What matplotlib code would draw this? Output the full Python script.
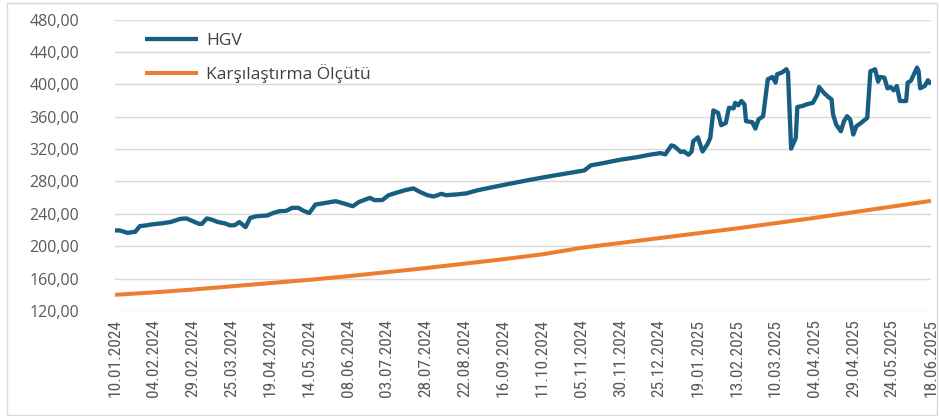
import matplotlib
matplotlib.use("Agg")
import matplotlib.pyplot as plt
from matplotlib import font_manager
from matplotlib.patches import Rectangle
import pandas as pd

# ---------------- data ----------------
tick_labels = ["10.01.2024", "04.02.2024", "29.02.2024", "25.03.2024", "19.04.2024",
               "14.05.2024", "08.06.2024", "03.07.2024", "28.07.2024", "22.08.2024",
               "16.09.2024", "11.10.2024", "05.11.2024", "30.11.2024", "25.12.2024",
               "19.01.2025", "13.02.2025", "10.03.2025", "04.04.2025", "29.04.2025",
               "24.05.2025", "18.06.2025"]

hgv_dates = ["10.01.2024", "13.01.2024", "18.01.2024", "23.01.2024", "26.01.2024", "30.01.2024",
             "03.02.2024", "10.02.2024", "15.02.2024", "21.02.2024", "25.02.2024", "29.02.2024",
             "04.03.2024", "06.03.2024", "09.03.2024", "12.03.2024", "16.03.2024", "21.03.2024",
             "24.03.2024", "27.03.2024", "30.03.2024", "03.04.2024", "06.04.2024", "10.04.2024",
             "17.04.2024", "21.04.2024", "25.04.2024", "29.04.2024", "03.05.2024", "07.05.2024",
             "10.05.2024", "14.05.2024", "18.05.2024", "22.05.2024", "31.05.2024", "04.06.2024",
             "11.06.2024", "15.06.2024", "22.06.2024", "25.06.2024", "30.06.2024", "04.07.2024",
             "09.07.2024", "15.07.2024", "20.07.2024", "24.07.2024", "29.07.2024", "02.08.2024",
             "07.08.2024", "10.08.2024", "17.08.2024", "23.08.2024", "30.08.2024", "07.09.2024",
             "20.09.2024", "03.10.2024", "16.10.2024", "29.10.2024", "07.11.2024", "11.11.2024",
             "19.11.2024", "30.11.2024", "11.12.2024", "19.12.2024", "26.12.2024", "29.12.2024",
             "02.01.2025", "04.01.2025", "08.01.2025", "10.01.2025", "13.01.2025", "15.01.2025",
             "16.01.2025", "19.01.2025", "22.01.2025", "25.01.2025", "27.01.2025", "29.01.2025",
             "01.02.2025", "03.02.2025", "06.02.2025", "08.02.2025", "11.02.2025", "12.02.2025",
             "14.02.2025", "16.02.2025", "18.02.2025", "19.02.2025", "23.02.2025", "25.02.2025",
             "27.02.2025", "02.03.2025", "05.03.2025", "08.03.2025", "10.03.2025", "11.03.2025",
             "14.03.2025", "17.03.2025", "18.03.2025", "20.03.2025", "23.03.2025", "24.03.2025",
             "27.03.2025", "30.03.2025", "03.04.2025", "06.04.2025", "07.04.2025", "10.04.2025",
             "13.04.2025", "15.04.2025", "16.04.2025", "18.04.2025", "21.04.2025", "23.04.2025",
             "25.04.2025", "27.04.2025", "29.04.2025", "01.05.2025", "04.05.2025", "08.05.2025",
             "10.05.2025", "13.05.2025", "15.05.2025", "16.05.2025", "19.05.2025", "21.05.2025",
             "23.05.2025", "25.05.2025", "27.05.2025", "29.05.2025", "02.06.2025", "03.06.2025",
             "05.06.2025", "07.06.2025", "09.06.2025", "10.06.2025", "11.06.2025", "14.06.2025",
             "16.06.2025", "18.06.2025"]

hgv_values = [219.5, 219.5, 216.5, 217.8, 224.8, 225.7,
              227.0, 228.5, 230.0, 233.8, 234.3, 231.0,
              227.7, 227.7, 234.3, 233.0, 230.0, 228.0,
              225.7, 226.0, 229.8, 223.6, 235.0, 237.0,
              238.0, 241.2, 243.3, 243.6, 247.4, 247.4,
              244.0, 241.0, 251.5, 252.7, 255.6, 253.5,
              249.4, 254.7, 259.7, 256.9, 257.0, 263.0,
              266.0, 269.4, 271.4, 267.2, 263.0, 261.4,
              264.7, 263.0, 264.0, 265.2, 269.0, 272.2,
              277.2, 282.0, 286.5, 290.7, 293.6, 299.8,
              302.6, 306.8, 310.0, 313.0, 315.0, 313.4,
              324.5, 323.3, 316.3, 317.0, 313.0, 317.0,
              329.6, 334.5, 317.0, 325.5, 333.7, 367.7,
              364.7, 349.4, 352.3, 371.0, 370.2, 377.1,
              374.0, 379.3, 375.2, 354.4, 353.2, 345.3,
              356.5, 360.6, 406.2, 409.0, 402.0, 412.4,
              414.4, 418.6, 414.4, 320.5, 333.7, 372.0,
              373.0, 375.2, 377.1, 387.6, 396.6, 389.6,
              384.2, 381.4, 362.7, 350.3, 342.0, 354.4,
              360.6, 356.5, 337.9, 348.2, 352.3, 358.5,
              416.0, 418.6, 403.2, 409.0, 408.2, 395.0,
              396.6, 392.5, 397.9, 379.3, 379.3, 402.0,
              404.1, 412.4, 420.6, 416.5, 395.0, 397.9,
              405.0, 400.0]

bench_dates = tick_labels
bench_values = [140.0, 143.0, 146.5, 150.5, 154.5, 158.5, 163.0, 168.0, 173.0, 178.5,
                184.0, 190.0, 198.0, 204.0, 210.0, 216.0, 222.0, 228.5, 235.0, 242.0,
                249.0, 256.0]

series_names = ["HGV", "Karşılaştırma Ölçütü"]
y_ticks = [120, 160, 200, 240, 280, 320, 360, 400, 440, 480]

# ---------------- fonts ----------------
available = {f.name for f in font_manager.fontManager.ttflist}
narrow = None
for cand in ["Liberation Sans Narrow", "Arial Narrow", "Roboto Condensed",
             "DejaVu Sans Condensed", "Open Sans Condensed", "Noto Sans Condensed"]:
    if cand in available:
        narrow = cand
        break
if narrow is None:
    xfont, xsize = ["Roboto", "DejaVu Sans"], 9.8
elif narrow == "DejaVu Sans Condensed":
    xfont, xsize = [narrow, "DejaVu Sans"], 9.8
else:
    xfont, xsize = [narrow, "DejaVu Sans"], 12.5

# ---------------- plot ----------------
W, H = 940, 416
fig = plt.figure(figsize=(W / 100, H / 100), dpi=100)
L, R, T, B = 115, 931, 19.5, 311
ax = fig.add_axes([L / W, 1 - B / H, (R - L) / W, (B - T) / H])

hx = pd.to_datetime(hgv_dates, format="%d.%m.%Y")
bx = pd.to_datetime(bench_dates, format="%d.%m.%Y")
tx = pd.to_datetime(tick_labels, format="%d.%m.%Y")

blue = "#175E82"
orange = "#ED7D31"
ax.plot(hx, hgv_values, color=blue, lw=3.1, solid_joinstyle="round",
        solid_capstyle="butt", label=series_names[0], zorder=3)
ax.plot(bx, bench_values, color=orange, lw=2.9, solid_capstyle="butt",
        label=series_names[1], zorder=2)

ax.set_xlim(tx[0], tx[-1])
ax.set_ylim(120, 480)
ax.set_yticks(y_ticks)
ax.set_yticklabels([f"{v:.2f}".replace(".", ",") for v in y_ticks],
                   fontsize=11.5, color="#595959", family=["Open Sans", "DejaVu Sans"])
ax.set_xticks(tx)
ax.set_xticklabels(tick_labels, rotation=90, fontsize=xsize, color="#595959",
                   family=xfont)
ax.tick_params(axis="both", length=0)
ax.tick_params(axis="y", pad=26)
ax.tick_params(axis="x", pad=6)
ax.grid(axis="y", color="#D9D9D9", lw=1.0)
ax.set_axisbelow(True)
for s in ax.spines.values():
    s.set_visible(False)

leg = ax.legend(loc="upper left", bbox_to_anchor=(145 / W, 1 - 33 / H),
                bbox_transform=fig.transFigure, frameon=False, borderpad=0,
                borderaxespad=0, handlelength=3.05, handletextpad=0.46,
                labelspacing=0.88, prop={"family": ["Open Sans", "DejaVu Sans"], "size": 12.5})
for t in leg.get_texts():
    t.set_color("#404040")

fig.patches.append(Rectangle((7 / W, 1 / H), 930 / W, 412 / H, transform=fig.transFigure,
                             fill=False, edgecolor="#D9D9D9", lw=1.0))

fig.savefig("out.png", dpi=100)
